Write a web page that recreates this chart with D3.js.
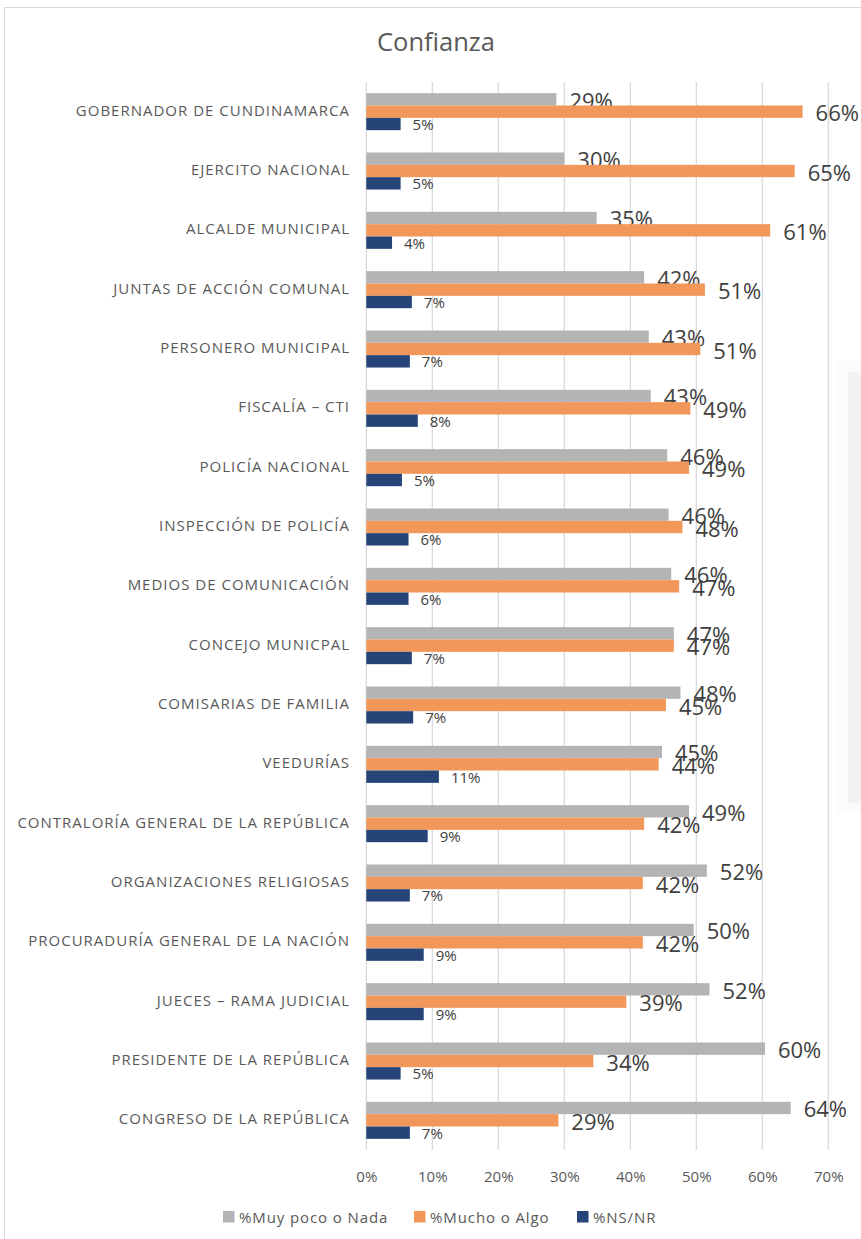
<!DOCTYPE html>
<html>
<head>
<meta charset="utf-8">
<script src="https://cdn.jsdelivr.net/npm/d3@7"></script>
<style>
  body { margin: 0; background: #fff; }
  svg { display: block; font-family: "Open Sans", sans-serif; }
</style>
</head>
<body>
<div id="chart"></div>
<script>
// datos
const categories = [
  "GOBERNADOR DE CUNDINAMARCA",
  "EJERCITO NACIONAL",
  "ALCALDE MUNICIPAL",
  "JUNTAS DE ACCIÓN COMUNAL",
  "PERSONERO MUNICIPAL",
  "FISCALÍA – CTI",
  "POLICÍA NACIONAL",
  "INSPECCIÓN DE POLICÍA",
  "MEDIOS DE COMUNICACIÓN",
  "CONCEJO MUNICPAL",
  "COMISARIAS DE FAMILIA",
  "VEEDURÍAS",
  "CONTRALORÍA GENERAL DE LA REPÚBLICA",
  "ORGANIZACIONES RELIGIOSAS",
  "PROCURADURÍA GENERAL DE LA NACIÓN",
  "JUECES – RAMA JUDICIAL",
  "PRESIDENTE DE LA REPÚBLICA",
  "CONGRESO DE LA REPÚBLICA",
];
const muyPocoNada = [28.8, 30.0, 34.9, 42.1, 42.8, 43.1, 45.6, 45.8, 46.2, 46.6, 47.6, 44.8, 48.9, 51.6, 49.6, 52.0, 60.4, 64.3];
const muchoAlgo = [66.1, 64.9, 61.2, 51.3, 50.6, 49.1, 48.9, 47.9, 47.4, 46.6, 45.4, 44.3, 42.1, 41.9, 41.9, 39.4, 34.4, 29.1];
const nsNr = [5.2, 5.2, 3.9, 6.9, 6.6, 7.8, 5.4, 6.4, 6.4, 6.9, 7.1, 11.0, 9.3, 6.6, 8.7, 8.7, 5.2, 6.6];
const seriesNames = ["%Muy poco o Nada", "%Mucho o Algo", "%NS/NR"];
const seriesColors = ["#b4b4b4", "#f1975a", "#264478"];
const xTicks = [0, 10, 20, 30, 40, 50, 60, 70];

const width = 861;
const height = 1239;
const plotLeft = 366.3, plotRight = 828.3;
const plotTop = 82, plotBottom = 1150;

const svg = d3
  .select("#chart")
  .append("svg")
  .attr("width", width)
  .attr("height", height);

// marco del gráfico
svg
  .append("rect")
  .attr("x", 4.5)
  .attr("y", 7.5)
  .attr("width", width + 10)
  .attr("height", height + 10)
  .attr("fill", "#fff")
  .attr("stroke", "#d9d9d9")
  .attr("stroke-width", 1);

// sombra tenue a la derecha
svg.append("rect").attr("x", 837).attr("y", 360).attr("width", 30).attr("height", 452).attr("fill", "#fbfbfb");
svg.append("rect").attr("x", 848).attr("y", 372).attr("width", 20).attr("height", 431).attr("fill", "#f2f2f2");

svg
  .append("text")
  .attr("x", 436)
  .attr("y", 51)
  .attr("text-anchor", "middle")
  .attr("font-size", 25.5)
  .attr("fill", "#595959")
  .text("Confianza");

const x = d3.scaleLinear().domain([0, 70]).range([plotLeft, plotRight]);

const y = d3
  .scaleBand()
  .domain(categories)
  .range([plotTop, plotBottom])
  .paddingInner(0.376)
  .paddingOuter(0.188);

const ySub = d3
  .scaleBand()
  .domain(seriesNames)
  .range([0, y.bandwidth()]);

// líneas de división
svg
  .append("g")
  .selectAll("line")
  .data(xTicks)
  .join("line")
  .attr("x1", (d) => x(d))
  .attr("x2", (d) => x(d))
  .attr("y1", plotTop)
  .attr("y2", plotBottom)
  .attr("stroke", "#d9d9d9")
  .attr("stroke-width", 1.3);

// eje x
const xAxis = svg
  .append("g")
  .attr("transform", `translate(0, ${plotBottom})`)
  .call(
    d3
      .axisBottom(x)
      .tickValues(xTicks)
      .tickFormat((d) => d + "%")
      .tickSize(0)
      .tickPadding(0)
  );
xAxis.select(".domain").remove();
xAxis
  .selectAll("text")
  .attr("y", 32)
  .attr("dy", null)
  .attr("font-family", "Open Sans")
  .attr("font-size", 15)
  .attr("fill", "#595959");

// etiquetas de categorías
svg
  .append("g")
  .selectAll("text")
  .data(categories)
  .join("text")
  .attr("x", 350)
  .attr("y", (d) => y(d) + y.bandwidth() / 2 + 4)
  .attr("text-anchor", "end")
  .attr("font-size", 15)
  .attr("letter-spacing", "1px")
  .attr("fill", "#595959")
  .text((d) => d);

const seriesValues = [muyPocoNada, muchoAlgo, nsNr];

seriesValues.forEach((values, s) => {
  const name = seriesNames[s];
  const big = s < 2;
  const g = svg.append("g");

  g.selectAll("rect")
    .data(values)
    .join("rect")
    .attr("x", x(0))
    .attr("y", (d, i) => y(categories[i]) + ySub(name))
    .attr("width", (d) => x(d) - x(0))
    .attr("height", ySub.bandwidth())
    .attr("fill", seriesColors[s]);

  g.selectAll("text")
    .data(values)
    .join("text")
    .attr("x", (d) => x(d) + (big ? 13 : 12))
    .attr(
      "y",
      (d, i) =>
        y(categories[i]) + ySub(name) + ySub.bandwidth() / 2 + (big ? 9.5 : 6)
    )
    .attr("font-size", big ? 22 : 15)
    .attr("fill", "#404040")
    .text((d) => Math.round(d) + "%");
});

// leyenda
const legendX = [223, 414, 577];
const legend = svg
  .append("g")
  .selectAll("g")
  .data(seriesNames)
  .join("g")
  .attr("transform", (d, i) => `translate(${legendX[i]}, 1211)`);

legend
  .append("rect")
  .attr("width", 11.5)
  .attr("height", 11.5)
  .attr("fill", (d, i) => seriesColors[i]);

legend
  .append("text")
  .attr("x", 16)
  .attr("y", 11.5)
  .attr("font-size", 15)
  .attr("letter-spacing", "0.9px")
  .attr("fill", "#595959")
  .text((d) => d);
</script>
</body>
</html>
